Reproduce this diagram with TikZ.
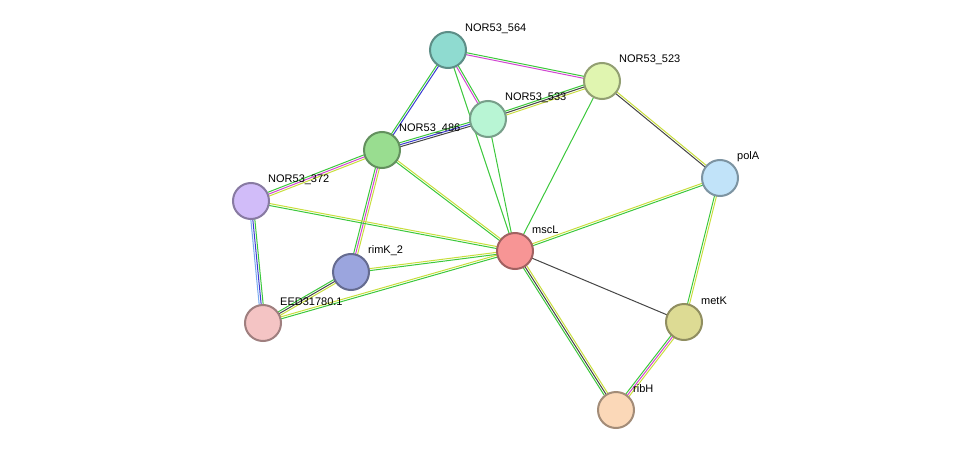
\documentclass[tikz,border=0pt]{standalone}
\usepackage{fontspec}
\setmainfont{Liberation Sans}
\usetikzlibrary{calc}
\definecolor{egreen}{RGB}{60,200,60}
\definecolor{eyellow}{RGB}{200,222,60}
\definecolor{emag}{RGB}{210,70,210}
\definecolor{eblue}{RGB}{60,60,210}
\definecolor{edark}{RGB}{70,70,70}
\definecolor{elblue}{RGB}{120,170,240}
% multi-coloured link: from, to, count, colours
\newcommand\strlink[4]{%
  \foreach \c [count=\i] in {#4} {
    \pgfmathsetmacro\o{(\i-(#3+1)/2)*2}
    \draw[\c, line width=1pt] ($(#1)!\o pt!90:(#2)$) -- ($(#2)!\o pt!-90:(#1)$);
  }}
\begin{document}
\begin{tikzpicture}[
    x=1pt, y=-1pt,
    prot/.style={
        circle,
        minimum size=36pt,
        inner sep=0pt,
        line width=2pt
    },
    lbl/.style={
        anchor=west,
        inner sep=0pt,
        font=\fontsize{11}{13}\selectfont
    }
]
    \useasboundingbox (0,0) rectangle (975,455);
    % protein coordinates
    \coordinate (n564) at (448,50);
    \coordinate (n523) at (602,81);
    \coordinate (n533) at (488,119);
    \coordinate (n486) at (382,150);
    \coordinate (n372) at (251,201);
    \coordinate (polA) at (720,178);
    \coordinate (mscL) at (515,251);
    \coordinate (rimK) at (351,272);
    \coordinate (eed) at (263,323);
    \coordinate (metK) at (684,322);
    \coordinate (ribH) at (616,410);

    % links
    \strlink{n564}{n523}{2}{emag,egreen}
    \strlink{n564}{n533}{2}{emag,egreen}
    \strlink{n564}{n486}{2}{egreen,eblue}
    \strlink{n564}{mscL}{1}{egreen}
    \strlink{n523}{n533}{3}{egreen,edark,eyellow}
    \strlink{n523}{mscL}{1}{egreen}
    \strlink{n523}{polA}{2}{edark,eyellow}
    \strlink{n533}{n486}{3}{egreen,eblue,edark}
    \strlink{n533}{mscL}{1}{egreen}
    \strlink{n486}{n372}{3}{egreen,emag,eyellow}
    \strlink{n486}{rimK}{3}{egreen,emag,eyellow}
    \strlink{n486}{mscL}{2}{egreen,eyellow}
    \strlink{n372}{eed}{3}{elblue,eblue,egreen}
    \strlink{n372}{mscL}{2}{egreen,eyellow}
    \strlink{rimK}{eed}{3}{egreen,edark,eyellow}
    \strlink{rimK}{mscL}{2}{egreen,eyellow}
    \strlink{eed}{mscL}{2}{egreen,eyellow}
    \strlink{mscL}{polA}{2}{egreen,eyellow}
    \strlink{mscL}{metK}{1}{edark}
    \strlink{mscL}{ribH}{3}{egreen,edark,eyellow}
    \strlink{polA}{metK}{2}{egreen,eyellow}
    \strlink{metK}{ribH}{3}{egreen,emag,eyellow}

    % proteins
    \foreach \p/\col/\txt in {
        n564/8FDBD0/NOR53\_564,
        n523/E0F5B0/NOR53\_523,
        n533/B8F5D4/NOR53\_533,
        n486/99DD90/NOR53\_486,
        n372/D1BCF9/NOR53\_372,
        polA/C1E3F9/polA,
        mscL/F79595/mscL,
        rimK/9BA5DE/rimK\_2,
        eed/F4C4C4/EED31780.1,
        metK/DDDB94/metK,
        ribH/FBD8B8/ribH} {
        \definecolor{pc}{HTML}{\col}
        \node[prot, fill=pc, draw=pc!65!black] (\p-c) at (\p) {};
        \node[lbl] (\p-l) at ($(\p)+(17,-21)$) {\txt};
    }
\end{tikzpicture}
\end{document}
